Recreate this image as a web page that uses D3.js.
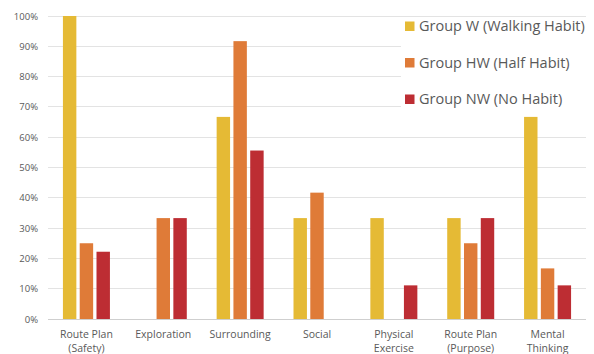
<!DOCTYPE html>
<html><head><meta charset="utf-8">
<script src="https://cdn.jsdelivr.net/npm/d3@7"></script>
<style>body{margin:0;background:#fff}svg{display:block}</style>
</head><body>
<svg id="c" width="594" height="354"></svg>
<script>
const categories = [["Route Plan","(Safety)"],["Exploration"],["Surrounding"],["Social"],["Physical","Exercise"],["Route Plan","(Purpose)"],["Mental","Thinking"]];
const seriesNames = ["Group W (Walking Habit)","Group HW (Half Habit)","Group NW (No Habit)"];
const groupW  = [1.0, 0, 0.667, 0.333, 0.333, 0.333, 0.667];
const groupHW = [0.25, 0.333, 0.917, 0.417, 0, 0.25, 0.167];
const groupNW = [0.222, 0.333, 0.556, 0, 0.111, 0.333, 0.111];
const yTicks = [0,0.1,0.2,0.3,0.4,0.5,0.6,0.7,0.8,0.9,1.0];
const colors = ["#E5BA35","#DF7B38","#BD2D33"];

(function(){
const series = [groupW, groupHW, groupNW];
const svg = d3.select("#c");
const font = "'Open Sans', sans-serif";
const mLeft = 48, mRight = 586, mTop = 16, mBottom = 319;

const x = d3.scaleBand().domain(d3.range(categories.length)).range([mLeft, mRight]).paddingInner(0).paddingOuter(0);
const xs = d3.scaleBand().domain(d3.range(3)).range([0, 47]).paddingInner(0.2);
const y = d3.scaleLinear().domain([0,1]).range([mBottom, mTop]);

svg.append("g").selectAll("line").data(yTicks).join("line")
  .attr("x1", mLeft).attr("x2", mRight)
  .attr("y1", d => y(d)).attr("y2", d => y(d))
  .attr("stroke", d => d === 0 ? "#cfcfcf" : "#e3e3e3").attr("stroke-width", 1)
  .attr("shape-rendering","crispEdges");

const yAxis = d3.axisLeft(y).tickValues(yTicks).tickFormat(d3.format(".0%")).tickSize(0).tickPadding(10);
const ya = svg.append("g").attr("transform", `translate(${mLeft},0)`).call(yAxis);
ya.select(".domain").remove();
ya.selectAll("text").attr("font-family", font).attr("font-size", 9.5).attr("fill", "#595959");

series.forEach((vals, si) => {
  svg.append("g").selectAll("rect").data(vals).join("rect")
    .attr("x", (d,i) => x(i) + (x.bandwidth()-47)/2 + xs(si))
    .attr("width", xs.bandwidth())
    .attr("y", d => y(d))
    .attr("height", d => y(0) - y(d))
    .attr("fill", colors[si]);
});

const cg = svg.append("g");
categories.forEach((lines, i) => {
  const t = cg.append("text").attr("x", x(i) + x.bandwidth()/2).attr("y", 338)
    .attr("text-anchor","middle").attr("font-family", font).attr("font-size", 10.5).attr("fill","#595959");
  lines.forEach((l, j) => t.append("tspan").attr("x", x(i) + x.bandwidth()/2).attr("dy", j === 0 ? 0 : 13.5).text(l));
});

const lg = svg.append("g");
lg.append("rect").attr("x", 401).attr("y", 19).attr("width", 185).attr("height", 92).attr("fill", "#fff");
seriesNames.forEach((n, i) => {
  const cy = 26 + i * 36.5;
  lg.append("rect").attr("x", 405).attr("y", cy - 4.5).attr("width", 9.5).attr("height", 9.5).attr("fill", colors[i]);
  lg.append("text").attr("x", 419).attr("y", cy + 5).attr("font-family", font).attr("font-size", 14.5)
    .attr("fill", "#595959").text(n);
});
})();
</script>
</body></html>
